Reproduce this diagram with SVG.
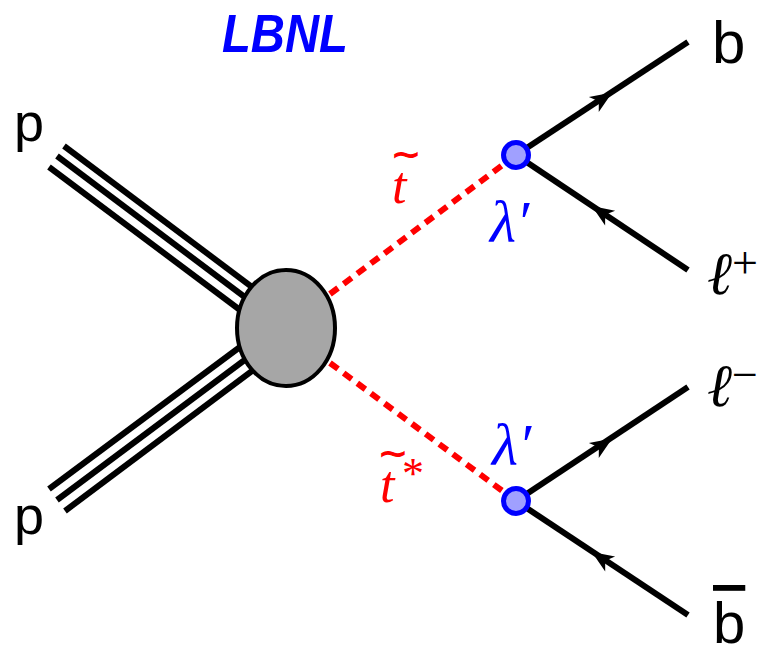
<svg xmlns="http://www.w3.org/2000/svg" width="764" height="646" viewBox="0 0 764 646">
<style>
.prot{stroke:#000;stroke-width:6;fill:none}
.ferm{stroke:#000;stroke-width:6;fill:none}
.scal{stroke:#ff0000;stroke-width:6;stroke-dasharray:10 7;fill:none}
.vtx{fill:#a0a0ff;stroke:#0000ff;stroke-width:5}
.lab{font-family:"Liberation Sans",Arial,sans-serif;fill:#000}
.math{font-family:"Liberation Serif","DejaVu Serif",serif;font-style:italic}
.sym{font-family:"Liberation Serif","DejaVu Serif",serif}
.tld{font-family:"DejaVu Sans",sans-serif;font-size:30px;font-weight:bold;fill:#ff0000;text-anchor:middle}
.red{fill:#ff0000}
.blue{fill:#0000ff}
</style>
<defs>
<path id="arr" d="M11,0 L-11,-9 L-5,0 L-11,9 Z" fill="#000"/>
</defs>
<rect width="764" height="646" fill="#fff"/>
<g id="title">
<text x="222" y="52" font-family="'Liberation Sans',Arial,sans-serif" font-weight="bold" font-style="italic" font-size="53" fill="#0000ff" textLength="126" lengthAdjust="spacingAndGlyphs">LBNL</text>
</g>
<g id="connectors">
<g id="proton-top">
<line class="prot" x1="64" y1="146" x2="256" y2="290"/>
<line class="prot" x1="57" y1="156" x2="250" y2="301"/>
<line class="prot" x1="49" y1="167" x2="244" y2="313"/>
</g>
<g id="proton-bottom">
<line class="prot" x1="49" y1="489" x2="244" y2="344"/>
<line class="prot" x1="57" y1="500" x2="250" y2="356"/>
<line class="prot" x1="65" y1="511" x2="256" y2="368"/>
</g>
<line id="stop" class="scal" x1="330" y1="294" x2="516" y2="155"/>
<line id="santistop" class="scal" x1="330" y1="363" x2="516" y2="501"/>
<line class="ferm" x1="516" y1="155" x2="688" y2="42"/>
<line class="ferm" x1="516" y1="155" x2="688" y2="270"/>
<line class="ferm" x1="516" y1="501" x2="688" y2="387"/>
<line class="ferm" x1="516" y1="501" x2="688" y2="615"/>
<use href="#arr" transform="translate(603,98.5) rotate(-33.3)"/>
<use href="#arr" transform="translate(601,212) rotate(-146.2)"/>
<use href="#arr" transform="translate(603,444.5) rotate(-33.5)"/>
<use href="#arr" transform="translate(601,558) rotate(-146.5)"/>
</g>
<g id="blob">
<ellipse cx="286" cy="328" rx="49" ry="58" fill="#a6a6a6" stroke="#000" stroke-width="4"/>
</g>
<g id="vertex-top"><circle class="vtx" cx="516" cy="155" r="12.5"/></g>
<g id="vertex-bottom"><circle class="vtx" cx="516" cy="501" r="12.5"/></g>
<g id="labels">
<text class="lab" x="14" y="141" font-size="54">p</text>
<text class="lab" x="14" y="534" font-size="54">p</text>
<text class="lab" x="712" y="63" font-size="60">b</text>
<text class="lab" x="713" y="643" font-size="58" text-decoration="overline">b</text>
<text class="math" x="707" y="294" font-size="60">ℓ<tspan class="sym" font-style="normal" font-size="46" dy="-16">+</tspan></text>
<text class="math" x="707" y="406" font-size="60">ℓ<tspan class="sym" font-style="normal" font-size="46" dy="-16">−</tspan></text>
<text class="math red" x="392" y="203" font-size="52">t</text>
<text class="tld" transform="translate(406,166) scale(1.25,1.1)">~</text>
<text class="math red" x="380" y="502" font-size="52">t</text>
<text class="tld" transform="translate(393,465) scale(1.25,1.1)">~</text>
<text class="sym red" x="402" y="488" font-size="44">*</text>
<text class="math blue" x="490" y="242" font-size="60">λ′</text>
<text class="math blue" x="492" y="465" font-size="60">λ′</text>
</g>
</svg>
